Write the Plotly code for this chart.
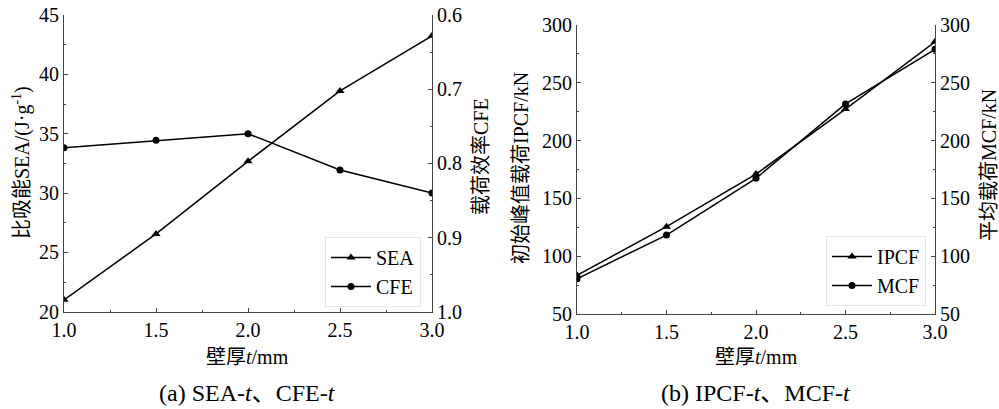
import plotly.graph_objects as go

# ---- data ----
thickness = [1.0, 1.5, 2.0, 2.5, 3.0]
sea = [21.0, 26.55, 32.67, 38.6, 43.25]
cfe = [0.779, 0.769, 0.760, 0.809, 0.840]
ipcf = [83.5, 125.5, 171.0, 227.3, 285.5]
mcf = [80.5, 118.3, 167.4, 231.7, 279.0]

x_ticks = [1.0, 1.5, 2.0, 2.5, 3.0]
sea_ticks = [20, 25, 30, 35, 40, 45]
cfe_ticks = [0.6, 0.7, 0.8, 0.9, 1.0]
force_ticks = [50, 100, 150, 200, 250, 300]

FONT = "Liberation Serif, Times New Roman, Noto Sans CJK SC"
W, H = 999, 409
LINE = dict(color="black", width=1.5)

fig = go.Figure()
fig.add_trace(go.Scatter(x=thickness, y=sea, name="SEA", mode="lines+markers",
                         line=LINE, marker=dict(symbol="triangle-up", size=8, color="black"),
                         xaxis="x", yaxis="y", legend="legend"))
fig.add_trace(go.Scatter(x=thickness, y=cfe, name="CFE", mode="lines+markers",
                         line=LINE, marker=dict(symbol="circle", size=7, color="black"),
                         xaxis="x", yaxis="y2", legend="legend"))
fig.add_trace(go.Scatter(x=thickness, y=ipcf, name="IPCF", mode="lines+markers",
                         line=LINE, marker=dict(symbol="triangle-up", size=8, color="black"),
                         xaxis="x2", yaxis="y3", legend="legend2"))
fig.add_trace(go.Scatter(x=thickness, y=mcf, name="MCF", mode="lines+markers",
                         line=LINE, marker=dict(symbol="circle", size=7, color="black"),
                         xaxis="x2", yaxis="y4", legend="legend2"))

def px_x(p):
    return p / W

def px_y(p):
    return 1 - p / H

axis_common = dict(showline=True, linecolor="#444", linewidth=1.2, ticks="inside",
                   ticklen=4, tickcolor="#444", showgrid=False, zeroline=False,
                   automargin=False,
                   tickfont=dict(family=FONT, size=20, color="black"))

xd1 = [px_x(64), px_x(432)]
yd1 = [px_y(311.7), px_y(15)]
xd2 = [px_x(577), px_x(935)]
yd2 = [px_y(314), px_y(25)]

fig.update_layout(
    width=W, height=H, autosize=False,
    margin=dict(l=0, r=0, t=0, b=0, pad=0, autoexpand=False),
    paper_bgcolor="white", plot_bgcolor="white",
    font=dict(family=FONT, size=20, color="black"),
    xaxis=dict(domain=xd1, anchor="y", range=[1.0, 3.0], tickvals=x_ticks,
               ticktext=["%.1f" % v for v in x_ticks],
               minor=dict(ticks="inside", ticklen=2, dtick=0.25, tick0=1.0, tickcolor="#444"),
               **axis_common),
    yaxis=dict(domain=yd1, anchor="x", range=[20, 45], tickvals=sea_ticks,
               minor=dict(ticks="inside", ticklen=2, dtick=2.5, tick0=20, tickcolor="#444"),
               **axis_common),
    yaxis2=dict(domain=yd1, anchor="x", overlaying="y", side="right",
                range=[1.0, 0.6], tickvals=cfe_ticks,
                ticktext=["%.1f" % v for v in cfe_ticks],
                minor=dict(ticks="inside", ticklen=2, dtick=0.05, tick0=0.6, tickcolor="#444"),
                **axis_common),
    xaxis2=dict(domain=xd2, anchor="y3", range=[1.0, 3.0], tickvals=x_ticks,
                ticktext=["%.1f" % v for v in x_ticks],
                minor=dict(ticks="inside", ticklen=2, dtick=0.25, tick0=1.0, tickcolor="#444"),
                **axis_common),
    yaxis3=dict(domain=yd2, anchor="x2", range=[50, 300], tickvals=force_ticks,
                minor=dict(ticks="inside", ticklen=2, dtick=25, tick0=50, tickcolor="#444"),
                **axis_common),
    yaxis4=dict(domain=yd2, anchor="x2", overlaying="y3", side="right",
                range=[50, 300], tickvals=force_ticks,
                minor=dict(ticks="inside", ticklen=2, dtick=25, tick0=50, tickcolor="#444"),
                **axis_common),
    legend=dict(x=px_x(325), y=px_y(237), xanchor="left", yanchor="top",
                bordercolor="#e6e6e6", borderwidth=1, bgcolor="white",
                font=dict(family=FONT, size=20), itemwidth=40, tracegroupgap=0),
    legend2=dict(x=px_x(826), y=px_y(236), xanchor="left", yanchor="top",
                 bordercolor="#e6e6e6", borderwidth=1, bgcolor="white",
                 font=dict(family=FONT, size=20), itemwidth=40, tracegroupgap=0),
)

ann = [
    dict(text="比吸能SEA/(J·g<sup>-1</sup>)", x=px_x(21), y=px_y(163), textangle=-90, size=20),
    dict(text="载荷效率CFE", x=px_x(481), y=px_y(157), textangle=-90, size=20),
    dict(text="初始峰值载荷IPCF/kN", x=px_x(521), y=px_y(168), textangle=-90, size=20),
    dict(text="平均载荷MCF/kN", x=px_x(989), y=px_y(165), textangle=-90, size=20),
    dict(text="壁厚<i>t</i>/mm", x=px_x(247), y=px_y(357), textangle=0, size=20),
    dict(text="壁厚<i>t</i>/mm", x=px_x(756), y=px_y(357), textangle=0, size=20),
    dict(text="(a) SEA-<i>t</i>、CFE-<i>t</i>", x=px_x(247), y=px_y(393), textangle=0, size=24),
    dict(text="(b) IPCF-<i>t</i>、MCF-<i>t</i>", x=px_x(756), y=px_y(393), textangle=0, size=24),
]
for a in ann:
    size = a.pop("size")
    fig.add_annotation(xref="paper", yref="paper", showarrow=False,
                       xanchor="center", yanchor="middle",
                       font=dict(family=FONT, size=size, color="black"), **a)

fig.write_html("out.html", config={"responsive": False, "displayModeBar": False},
               post_script="document.body.style.margin='0';document.body.style.overflow='hidden';")
